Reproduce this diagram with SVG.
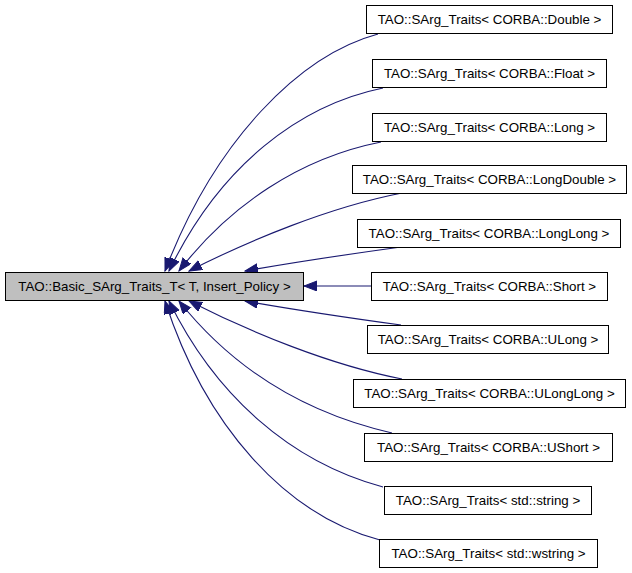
<svg xmlns="http://www.w3.org/2000/svg" width="632" height="573" viewBox="0 0 632 573">
<style>
.box rect{fill:#ffffff;stroke:#000000;stroke-width:1}
.main rect{fill:#bfbfbf;stroke:#000000;stroke-width:1}
text{font-family:"Liberation Sans",Arial,sans-serif;font-size:13.33px;fill:#000000;text-anchor:middle}
.edges path{fill:none;stroke:#191970;stroke-width:1.1}
</style>
<defs>
<marker id="ah" markerUnits="userSpaceOnUse" markerWidth="14" markerHeight="11" refX="13" refY="5" orient="auto">
<path d="M0,0 L13,5 L0,10 z" fill="#191970" stroke="#191970" stroke-width="1"/>
</marker>
</defs>
<rect width="632" height="573" fill="#ffffff"/>
<g class="edges">
<path marker-end="url(#ah)" d="M378,34 C300,55 215,140 165,271"/>
<path marker-end="url(#ah)" d="M383,88 C300,105 220,165 169,271"/>
<path marker-end="url(#ah)" d="M381,142 C300,158 230,205 179,271"/>
<path marker-end="url(#ah)" d="M402,193 C330,207 250,240 189,271"/>
<path marker-end="url(#ah)" d="M401,247 C350,254 290,263 245,271"/>
<path marker-end="url(#ah)" d="M371,286 L304,286"/>
<path marker-end="url(#ah)" d="M401,325 C350,318 290,309 245,301"/>
<path marker-end="url(#ah)" d="M402,379 C330,365 250,332 189,301"/>
<path marker-end="url(#ah)" d="M392,433 C300,412 230,365 179,301"/>
<path marker-end="url(#ah)" d="M383,487 C290,462 215,395 169,301"/>
<path marker-end="url(#ah)" d="M380,540 C285,515 205,425 165,301"/>
</g>
<g id="main" class="main"><rect x="5.5" y="272.5" width="298" height="28"/><text x="154.5" y="291">TAO::Basic_SArg_Traits_T&lt; T, Insert_Policy &gt;</text></g>
<g id="n_double" class="box"><rect x="366.5" y="5.5" width="246" height="28"/><text x="489.5" y="24">TAO::SArg_Traits&lt; CORBA::Double &gt;</text></g>
<g id="n_float" class="box"><rect x="372.5" y="59.5" width="234" height="28"/><text x="489.5" y="78">TAO::SArg_Traits&lt; CORBA::Float &gt;</text></g>
<g id="n_long" class="box"><rect x="372.5" y="113.5" width="234" height="28"/><text x="489.5" y="132">TAO::SArg_Traits&lt; CORBA::Long &gt;</text></g>
<g id="n_longdouble" class="box"><rect x="352.5" y="165.5" width="274" height="28"/><text x="489.5" y="184">TAO::SArg_Traits&lt; CORBA::LongDouble &gt;</text></g>
<g id="n_longlong" class="box"><rect x="357.5" y="219.5" width="263" height="28"/><text x="489" y="238">TAO::SArg_Traits&lt; CORBA::LongLong &gt;</text></g>
<g id="n_short" class="box"><rect x="371.5" y="272.5" width="236" height="28"/><text x="489.5" y="291">TAO::SArg_Traits&lt; CORBA::Short &gt;</text></g>
<g id="n_ulong" class="box"><rect x="367.5" y="325.5" width="241" height="28"/><text x="488" y="344">TAO::SArg_Traits&lt; CORBA::ULong &gt;</text></g>
<g id="n_ulonglong" class="box"><rect x="353.5" y="379.5" width="272" height="28"/><text x="489.5" y="398">TAO::SArg_Traits&lt; CORBA::ULongLong &gt;</text></g>
<g id="n_ushort" class="box"><rect x="364.5" y="433.5" width="248" height="28"/><text x="488.5" y="452">TAO::SArg_Traits&lt; CORBA::UShort &gt;</text></g>
<g id="n_string" class="box"><rect x="384.5" y="486.5" width="207" height="28"/><text x="488" y="505">TAO::SArg_Traits&lt; std::string &gt;</text></g>
<g id="n_wstring" class="box"><rect x="379.5" y="539.5" width="218" height="28"/><text x="488.5" y="558">TAO::SArg_Traits&lt; std::wstring &gt;</text></g>
</svg>
